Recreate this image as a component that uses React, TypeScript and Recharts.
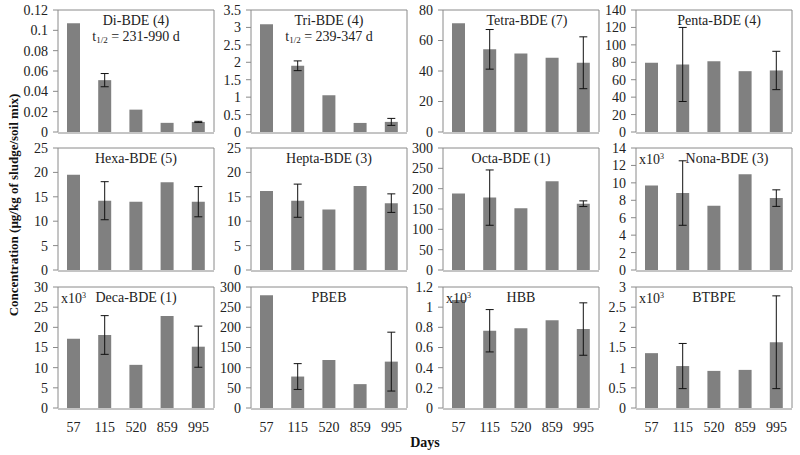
import React from 'react';
import { BarChart, Bar, XAxis, YAxis, ErrorBar } from 'recharts';

const days = ['57', '115', '520', '859', '995'];

// values, error = half of the error bar span
const diBDE = [0.107, 0.051, 0.022, 0.009, 0.0099];
const diBDEErr = [null, 0.0065, null, null, 0.0006];
const triBDE = [3.09, 1.9, 1.055, 0.26, 0.29];
const triBDEErr = [null, 0.14, null, null, 0.1];
const tetraBDE = [71.3, 54.2, 51.5, 48.7, 45.4];
const tetraBDEErr = [null, 13, null, null, 17];
const pentaBDE = [79.4, 77.5, 81.3, 69.8, 70.6];
const pentaBDEErr = [null, 42.5, null, null, 22];
const hexaBDE = [19.5, 14.2, 14.0, 18.0, 14.0];
const hexaBDEErr = [null, 3.9, null, null, 3.1];
const heptaBDE = [16.2, 14.2, 12.4, 17.2, 13.7];
const heptaBDEErr = [null, 3.4, null, null, 1.9];
const octaBDE = [188, 178, 152, 218, 163];
const octaBDEErr = [null, 68, null, null, 7];
const nonaBDE = [9.7, 8.83, 7.36, 11.0, 8.25];
const nonaBDEErr = [null, 3.7, null, null, 0.95];
const decaBDE = [17.2, 18.1, 10.7, 22.8, 15.2];
const decaBDEErr = [null, 4.8, null, null, 5.1];
const pbeb = [279.5, 78, 119, 59.2, 115];
const pbebErr = [null, 32, null, null, 73];
const hbb = [1.07, 0.766, 0.79, 0.87, 0.783];
const hbbErr = [null, 0.21, null, null, 0.26];
const btbpe = [1.36, 1.04, 0.92, 0.945, 1.63];
const btbpeErr = [null, 0.56, null, null, 1.15];

const ticksDi = [0, 0.02, 0.04, 0.06, 0.08, 0.1, 0.12];
const ticksTri = [0, 0.5, 1, 1.5, 2, 2.5, 3, 3.5];
const ticksTetra = [0, 20, 40, 60, 80];
const ticksPenta = [0, 20, 40, 60, 80, 100, 120, 140];
const ticks25 = [0, 5, 10, 15, 20, 25];
const ticks300 = [0, 50, 100, 150, 200, 250, 300];
const ticksNona = [0, 2, 4, 6, 8, 10, 12, 14];
const ticks30 = [0, 5, 10, 15, 20, 25, 30];
const ticksHbb = [0, 0.2, 0.4, 0.6, 0.8, 1, 1.2];
const ticksBtbpe = [0, 0.5, 1, 1.5, 2, 2.5, 3];

const panels = [
  { name: 'Di-BDE (4)', values: diBDE, errors: diBDEErr, ticks: ticksDi, halfLife: '231-990 d' },
  { name: 'Tri-BDE (4)', values: triBDE, errors: triBDEErr, ticks: ticksTri, halfLife: '239-347 d' },
  { name: 'Tetra-BDE (7)', values: tetraBDE, errors: tetraBDEErr, ticks: ticksTetra, shift: 6 },
  { name: 'Penta-BDE (4)', values: pentaBDE, errors: pentaBDEErr, ticks: ticksPenta, shift: 5 },
  { name: 'Hexa-BDE (5)', values: hexaBDE, errors: hexaBDEErr, ticks: ticks25 },
  { name: 'Hepta-BDE (3)', values: heptaBDE, errors: heptaBDEErr, ticks: ticks25 },
  { name: 'Octa-BDE (1)', values: octaBDE, errors: octaBDEErr, ticks: ticks300, shift: -10 },
  { name: 'Nona-BDE (3)', values: nonaBDE, errors: nonaBDEErr, ticks: ticksNona, thousands: true, shift: 13 },
  { name: 'Deca-BDE (1)', values: decaBDE, errors: decaBDEErr, ticks: ticks30, thousands: true },
  { name: 'PBEB', values: pbeb, errors: pbebErr, ticks: ticks300 },
  { name: 'HBB', values: hbb, errors: hbbErr, ticks: ticksHbb, thousands: true },
  { name: 'BTBPE', values: btbpe, errors: btbpeErr, ticks: ticksBtbpe, thousands: true },
];

const FONT = '"Liberation Serif", "Times New Roman", serif';
const AXIS = '#8a8a8a';
const AXIS_W = 50;
const PLOT_W = 156;
const PLOT_H = 121;
const colLeft = [58, 251, 443, 636];
const rowTop = [10, 148, 287];
const edgeTicks = days.map((_, i) => i).concat(days.length);

const textStyle: React.CSSProperties = {
  position: 'absolute',
  fontFamily: FONT,
  fontSize: 14,
  color: '#222',
  lineHeight: '16px',
  whiteSpace: 'nowrap',
};

function Panel({ p, left, top, showDays }: any) {
  const data = days.map((d, i) => ({ day: d, value: p.values[i], err: p.errors[i] }));
  const max = p.ticks[p.ticks.length - 1];
  const mTop = 10;
  const mBottom = showDays ? 32 : 10;
  const cx = left + PLOT_W / 2 + (p.shift || 0);
  return (
    <>
      <div style={{ position: 'absolute', left: left - AXIS_W, top: top - mTop - 1 }}>
        <BarChart
          width={AXIS_W + PLOT_W + 1 + 6}
          height={mTop + 1 + PLOT_H + 2 + mBottom}
          data={data}
          margin={{ top: mTop, right: 6, bottom: mBottom, left: 0 }}
        >
          <XAxis
            xAxisId="edge"
            type="number"
            domain={[0, days.length]}
            ticks={edgeTicks}
            tick={false}
            height={1}
            tickSize={5}
            stroke={AXIS}
            allowDataOverflow
          />
          <XAxis
            xAxisId="cat"
            dataKey="day"
            hide={!showDays}
            height={1}
            axisLine={false}
            tickLine={false}
            tickSize={0}
            tickMargin={14}
            interval={0}
            tick={{ fill: '#222', fontSize: 14, fontFamily: FONT }}
          />
          <XAxis
            xAxisId="top"
            orientation="top"
            type="number"
            domain={[0, days.length]}
            tick={false}
            tickLine={false}
            height={1}
            stroke={AXIS}
            allowDataOverflow
          />
          <YAxis
            yAxisId="v"
            domain={[0, max]}
            ticks={p.ticks}
            interval={0}
            width={AXIS_W}
            tickSize={5}
            tickMargin={5}
            stroke={AXIS}
            tick={{ fill: '#222', fontSize: 14, fontFamily: FONT }}
            allowDataOverflow
          />
          <YAxis
            yAxisId="r"
            orientation="right"
            domain={[0, 1]}
            tick={false}
            tickLine={false}
            width={1}
            stroke={AXIS}
          />
          <Bar xAxisId="cat" yAxisId="v" dataKey="value" fill="#808080" barSize={13} isAnimationActive={false}>
            <ErrorBar dataKey="err" width={4} stroke="#111" strokeWidth={1} direction="y" />
          </Bar>
        </BarChart>
      </div>
      <div style={{ ...textStyle, left: cx - 100, width: 200, textAlign: 'center', top: top + 3 }}>{p.name}</div>
      {p.halfLife && (
        <div style={{ ...textStyle, left: left + PLOT_W / 2 - 100, width: 200, textAlign: 'center', top: top + 19 }}>
          t<sub style={{ fontSize: 9, verticalAlign: '-2px' }}>1/2</sub> = {p.halfLife}
        </div>
      )}
      {p.thousands && (
        <div style={{ ...textStyle, left: left + 3, top: top + 1 }}>
          x10<sup style={{ fontSize: 8, verticalAlign: '5px' }}>3</sup>
        </div>
      )}
    </>
  );
}

export default function App() {
  return (
    <div style={{ position: 'absolute', left: 0, top: 0, width: 800, height: 455, background: '#fff' }}>
      {panels.map((p, i) => (
        <Panel
          key={p.name}
          p={p}
          left={colLeft[i % 4]}
          top={rowTop[Math.floor(i / 4)]}
          showDays={Math.floor(i / 4) === 2}
        />
      ))}
      <div
        style={{
          ...textStyle,
          fontSize: 13,
          fontWeight: 'bold',
          color: '#111',
          left: 14 - 150,
          width: 300,
          textAlign: 'center',
          top: 205 - 8,
          transform: 'rotate(-90deg)',
        }}
      >
        Concentration (µg/kg of sludge/soil mix)
      </div>
      <div style={{ ...textStyle, fontWeight: 'bold', color: '#111', left: 425 - 50, width: 100, textAlign: 'center', top: 435 }}>
        Days
      </div>
    </div>
  );
}
